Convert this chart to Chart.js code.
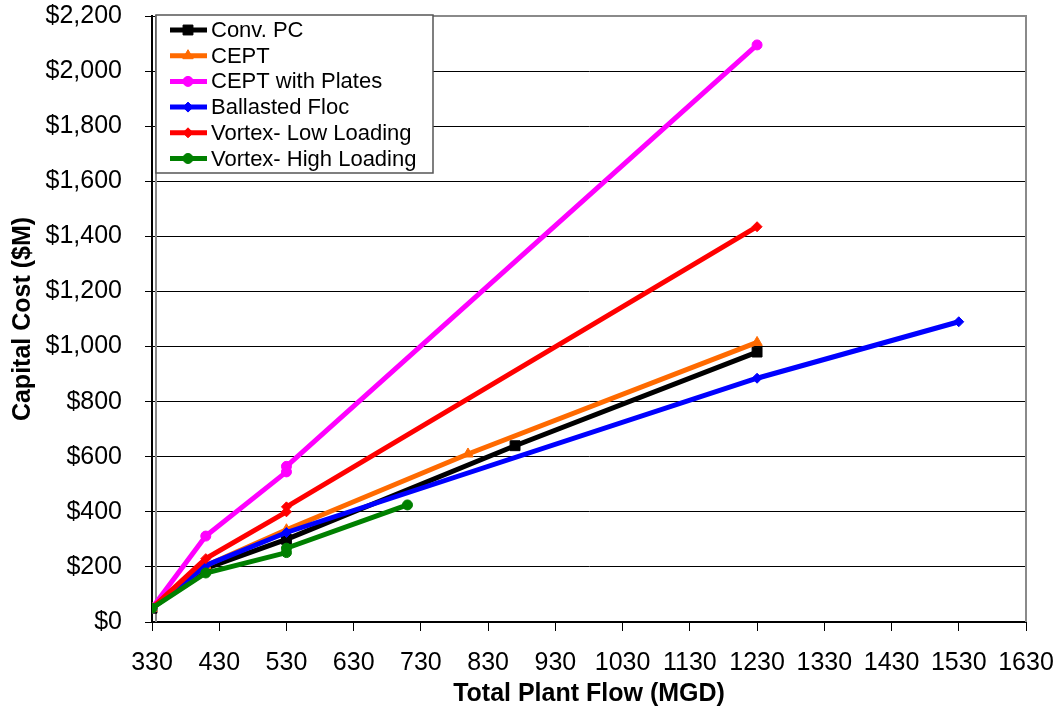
<!DOCTYPE html>
<html>
<head>
<meta charset="utf-8">
<script src="https://cdn.jsdelivr.net/npm/chart.js@4/dist/chart.umd.min.js"></script>
<style>
  html, body { margin: 0; padding: 0; background: #fff; }
  #wrap { width: 1060px; height: 712px; }
</style>
</head>
<body>
<div id="wrap"><canvas id="plot" width="1060" height="712"></canvas></div>
<script>
// flow (MGD) and capital cost ($M) for each process option
const convPcFlow = [330, 410, 530, 870, 1230];
const convPcCost = [50, 195, 300, 640, 980];

const ceptFlow = [330, 410, 530, 800, 1230];
const ceptCost = [50, 205, 335, 610, 1015];

const ceptPlatesFlow = [330, 410, 530, 530, 1230];
const ceptPlatesCost = [50, 312, 545, 565, 2095];

const ballastedFlow = [330, 410, 530, 1230, 1530];
const ballastedCost = [50, 205, 325, 885, 1090];

const vortexLowFlow = [330, 410, 530, 530, 1230];
const vortexLowCost = [50, 230, 400, 418, 1435];

const vortexHighFlow = [330, 410, 530, 530, 710];
const vortexHighCost = [50, 178, 252, 268, 425];

const seriesNames = ['Conv. PC', 'CEPT', 'CEPT with Plates', 'Ballasted Floc',
  'Vortex- Low Loading', 'Vortex- High Loading'];

const flowTicks = [330, 430, 530, 630, 730, 830, 930, 1030, 1130, 1230, 1330, 1430, 1530, 1630];

const FONT = 'Liberation Sans, Arial, sans-serif';

function toPoints(xs, ys) {
  return xs.map(function(x, i) {
    return { x: x, y: ys[i] };
  });
}

function createDataset(label, xs, ys, color, style, radius, order) {
  return {
    label,
    data: toPoints(xs, ys),
    borderColor: color,
    backgroundColor: color,
    pointBackgroundColor: color,
    pointBorderColor: color,
    pointStyle: style,
    pointRadius: radius,
    pointBorderWidth: 1,
    borderWidth: 5,
    tension: 0,
    order,
  };
}

const datasets = [
  createDataset(seriesNames[0], convPcFlow, convPcCost, '#000000', 'rect', 7, 6),
  createDataset(seriesNames[1], ceptFlow, ceptCost, '#FF6A00', 'triangle', 6, 5),
  createDataset(seriesNames[2], ceptPlatesFlow, ceptPlatesCost, '#FF00FF', 'circle', 5, 4),
  createDataset(seriesNames[3], ballastedFlow, ballastedCost, '#0000FF', 'rectRot', 5, 3),
  createDataset(seriesNames[4], vortexLowFlow, vortexLowCost, '#FF0000', 'rectRot', 5, 2),
  createDataset(seriesNames[5], vortexHighFlow, vortexHighCost, '#008000', 'circle', 5, 1),
];

// gray frame round the plot area
const plotFrame = {
  id: 'plotFrame',
  beforeDatasetsDraw: (chart) => {
    const { ctx, chartArea } = chart;
    ctx.save();
    ctx.strokeStyle = '#8a8a8a';
    ctx.lineWidth = 2;
    ctx.beginPath();
    ctx.moveTo(chartArea.left + 4, chartArea.bottom);
    ctx.lineTo(chartArea.left + 4, chartArea.top);
    ctx.lineTo(chartArea.right, chartArea.top);
    ctx.lineTo(chartArea.right, chartArea.bottom);
    ctx.stroke();
    ctx.restore();
  }
};

// legend box drawn inside the plot, top left
const boxLegend = {
  id: 'boxLegend',
  afterDraw: (chart) => {
    const ctx = chart.ctx;
    const left = 156, top = 15, width = 277, height = 158;
    ctx.save();
    ctx.fillStyle = '#ffffff';
    ctx.fillRect(left, top, width, height);
    ctx.strokeStyle = '#555555';
    ctx.lineWidth = 1.5;
    ctx.strokeRect(left, top, width, height);
    ctx.font = '22px ' + FONT;
    ctx.textBaseline = 'middle';
    chart.data.datasets.forEach(function(ds, i) {
      const y = top + 15 + i * 25.7;
      ctx.strokeStyle = ds.borderColor;
      ctx.fillStyle = ds.borderColor;
      ctx.lineWidth = 5;
      ctx.beginPath();
      ctx.moveTo(170, y);
      ctx.lineTo(207, y);
      ctx.stroke();
      ctx.lineWidth = 1;
      Chart.helpers.drawPoint(ctx, {
        pointStyle: ds.pointStyle,
        radius: ds.pointRadius,
        rotation: 0,
        borderWidth: 1,
      }, 188, y);
      ctx.fillStyle = '#000000';
      ctx.fillText(ds.label, 211, y + 1);
    });
    ctx.restore();
  }
};

const config = {
  type: 'line',
  data: { datasets },
  plugins: [plotFrame, boxLegend],
  options: {
    responsive: false,
    devicePixelRatio: 1,
    animation: false,
    layout: {
      padding: { top: 16, right: 34, left: 0, bottom: 0 }
    },
    plugins: {
      legend: { display: false },
      tooltip: { enabled: false },
    },
    scales: {
      x: {
        type: 'linear',
        min: 330,
        max: 1630,
        afterBuildTicks: (scale) => {
          scale.ticks = flowTicks.map(function(v) { return { value: v }; });
        },
        afterFit: (scale) => {
          scale.height = 90;
          scale.paddingLeft = 0;
          scale.paddingRight = 0;
        },
        grid: {
          drawOnChartArea: false,
          drawTicks: true,
          tickLength: 9,
          tickWidth: 1,
          tickColor: '#000000',
        },
        border: { display: true, color: '#000000', width: 2 },
        ticks: {
          color: '#000000',
          font: { family: FONT, size: 25 },
          padding: 17,
          maxRotation: 0,
          autoSkip: false,
          callback: (v) => String(v),
        },
        title: {
          display: true,
          text: 'Total Plant Flow (MGD)',
          color: '#000000',
          font: { family: FONT, size: 25, weight: 'bold' },
          padding: { top: 0, bottom: 3 },
        },
      },
      y: {
        type: 'linear',
        min: 0,
        max: 2200,
        ticks: {
          stepSize: 200,
          color: '#000000',
          font: { family: FONT, size: 25 },
          padding: 23,
          callback: (v) => '$' + v.toLocaleString('en-US'),
        },
        afterFit: (scale) => {
          scale.width = 152;
          scale.paddingTop = 0;
          scale.paddingBottom = 0;
        },
        grid: {
          color: '#000000',
          lineWidth: 1,
          drawTicks: true,
          tickLength: 7,
          tickColor: '#000000',
        },
        border: { display: true, color: '#000000', width: 2 },
        title: {
          display: true,
          text: 'Capital Cost ($M)',
          color: '#000000',
          font: { family: FONT, size: 25, weight: 'bold' },
          padding: { top: 8, bottom: 0 },
        },
      },
    },
  },
};

const canvas = document.getElementById('plot');
const ctx = canvas.getContext('2d');
const chart = new Chart(ctx, config);
</script>
</body>
</html>
